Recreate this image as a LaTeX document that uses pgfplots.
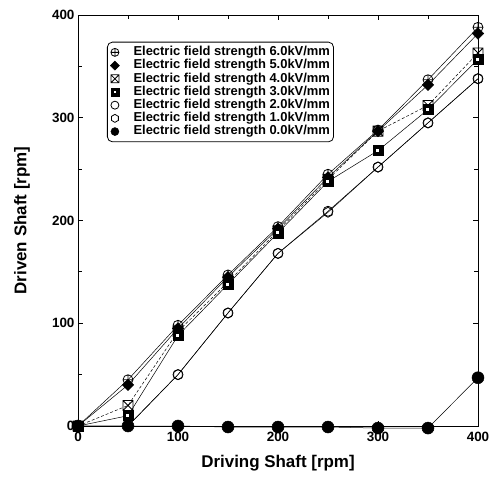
\documentclass[border=0pt]{standalone}
\usepackage{fontspec}
\setmainfont{Liberation Sans}
\usepackage{pgfplots}
\pgfplotsset{compat=1.18}

% square with a cross
\pgfdeclareplotmark{boxx}{%
  \pgfpathrectangle{\pgfpoint{-\pgfplotmarksize}{-\pgfplotmarksize}}{\pgfpoint{2\pgfplotmarksize}{2\pgfplotmarksize}}%
  \pgfpathmoveto{\pgfpoint{-\pgfplotmarksize}{-\pgfplotmarksize}}\pgfpathlineto{\pgfpoint{\pgfplotmarksize}{\pgfplotmarksize}}%
  \pgfpathmoveto{\pgfpoint{-\pgfplotmarksize}{\pgfplotmarksize}}\pgfpathlineto{\pgfpoint{\pgfplotmarksize}{-\pgfplotmarksize}}%
  \pgfusepathqstroke}
% filled square with a small hole
\pgfdeclareplotmark{holesq}{%
  \pgfpathrectangle{\pgfpoint{-\pgfplotmarksize}{-\pgfplotmarksize}}{\pgfpoint{2\pgfplotmarksize}{2\pgfplotmarksize}}%
  \pgfusepathqfillstroke
  \begin{pgfscope}
  \pgfsetfillcolor{white}%
  \pgfpathrectangle{\pgfpoint{-0.3\pgfplotmarksize}{-0.3\pgfplotmarksize}}{\pgfpoint{0.6\pgfplotmarksize}{0.6\pgfplotmarksize}}%
  \pgfusepathqfill
  \end{pgfscope}}
% open hexagon
\pgfdeclareplotmark{hexo}{%
  \pgfpathmoveto{\pgfpointpolar{90}{\pgfplotmarksize}}%
  \pgfpathlineto{\pgfpointpolar{150}{\pgfplotmarksize}}%
  \pgfpathlineto{\pgfpointpolar{210}{\pgfplotmarksize}}%
  \pgfpathlineto{\pgfpointpolar{270}{\pgfplotmarksize}}%
  \pgfpathlineto{\pgfpointpolar{330}{\pgfplotmarksize}}%
  \pgfpathlineto{\pgfpointpolar{30}{\pgfplotmarksize}}%
  \pgfpathclose\pgfusepathqstroke}

\begin{document}
\begin{tikzpicture}
\begin{axis}[
  scale only axis,
  width=400bp, height=411bp,
  xmin=0, xmax=400, ymin=0, ymax=400,
  xtick={0,100,200,300,400}, ytick={0,100,200,300,400},
  minor xtick={50,150,250,350}, minor ytick={50,150,250,350},
  tick align=inside, major tick length=5bp, minor tick length=4bp,
  axis line style={line width=1pt},
  tick style={black, line width=0.8pt},
  clip=false,
  /pgf/number format/assume math mode=true,
  ticklabel style={font=\bfseries\fontsize{13.5}{15}\selectfont},
  xticklabel style={yshift=-3bp},
  xlabel={Driving Shaft [rpm]}, ylabel={Driven Shaft [rpm]},
  label style={font=\bfseries\fontsize{17}{19}\selectfont},
  xlabel style={at={(axis description cs:0.5,0)}, anchor=center, yshift=-37bp},
  ylabel style={at={(axis description cs:0,0.5)}, anchor=center, yshift=56bp},
  every axis plot/.append style={black, line width=0.5pt, mark size=5bp, mark options={solid, line width=0.8pt}},
  legend cell align=left,
  legend image code/.code={\draw[#1, only marks] plot coordinates {(0.12cm,0cm)}; \path (0.75cm,0cm);},
  legend style={at={(0.0725,0.935)}, anchor=north west, rounded corners=5bp,
    font=\bfseries\fontsize{13}{14}\selectfont, line width=0.8pt,
    row sep=0.7bp, inner xsep=3bp, inner ysep=4bp,
    nodes={inner sep=0.5bp, text height=9bp, text depth=2.5bp},
    legend image post style={mark size=4bp}},
]
\addplot[mark=oplus] coordinates {(0,0) (50,45) (100,98) (150,147) (200,194) (250,245) (300,288) (350,337) (400,388)};
\addplot[mark=square*, mark options={fill=black, rotate=45, scale=0.8}] coordinates {(0,0) (50,40) (100,95) (150,145) (200,192) (250,242) (300,287) (350,332) (400,382)};
\addplot[mark=boxx, densely dashed] coordinates {(0,0) (50,20) (100,92) (150,140) (200,190) (250,240) (300,287) (350,312) (400,363)};
\addplot[mark=holesq, mark options={fill=black}] coordinates {(0,0) (50,10) (100,88) (150,138) (200,188) (250,238) (300,268) (350,308) (400,357)};
\addplot[mark=o] coordinates {(0,0) (50,0) (100,50) (150,110) (200,168) (250,209) (300,252) (350,295) (400,338)};
\addplot[mark=hexo] coordinates {(0,0) (50,0) (100,50) (150,110) (200,168) (250,208) (300,252) (350,295) (400,338)};
\addplot[mark=*, mark options={fill=black}, mark size=6bp] coordinates {(0,0) (50,0) (100,0) (150,-1) (200,-1) (250,-1) (300,-2) (350,-2) (400,47)};
\legend{Electric field strength 6.0kV/mm, Electric field strength 5.0kV/mm, Electric field strength 4.0kV/mm, Electric field strength 3.0kV/mm, Electric field strength 2.0kV/mm, Electric field strength 1.0kV/mm, Electric field strength 0.0kV/mm}
% fix the page to the reference's margins
\path (rel axis cs:0,0) ++(-78bp,-51bp);
\path (rel axis cs:1,1) ++(16bp,15bp);
\end{axis}
\end{tikzpicture}
\end{document}
